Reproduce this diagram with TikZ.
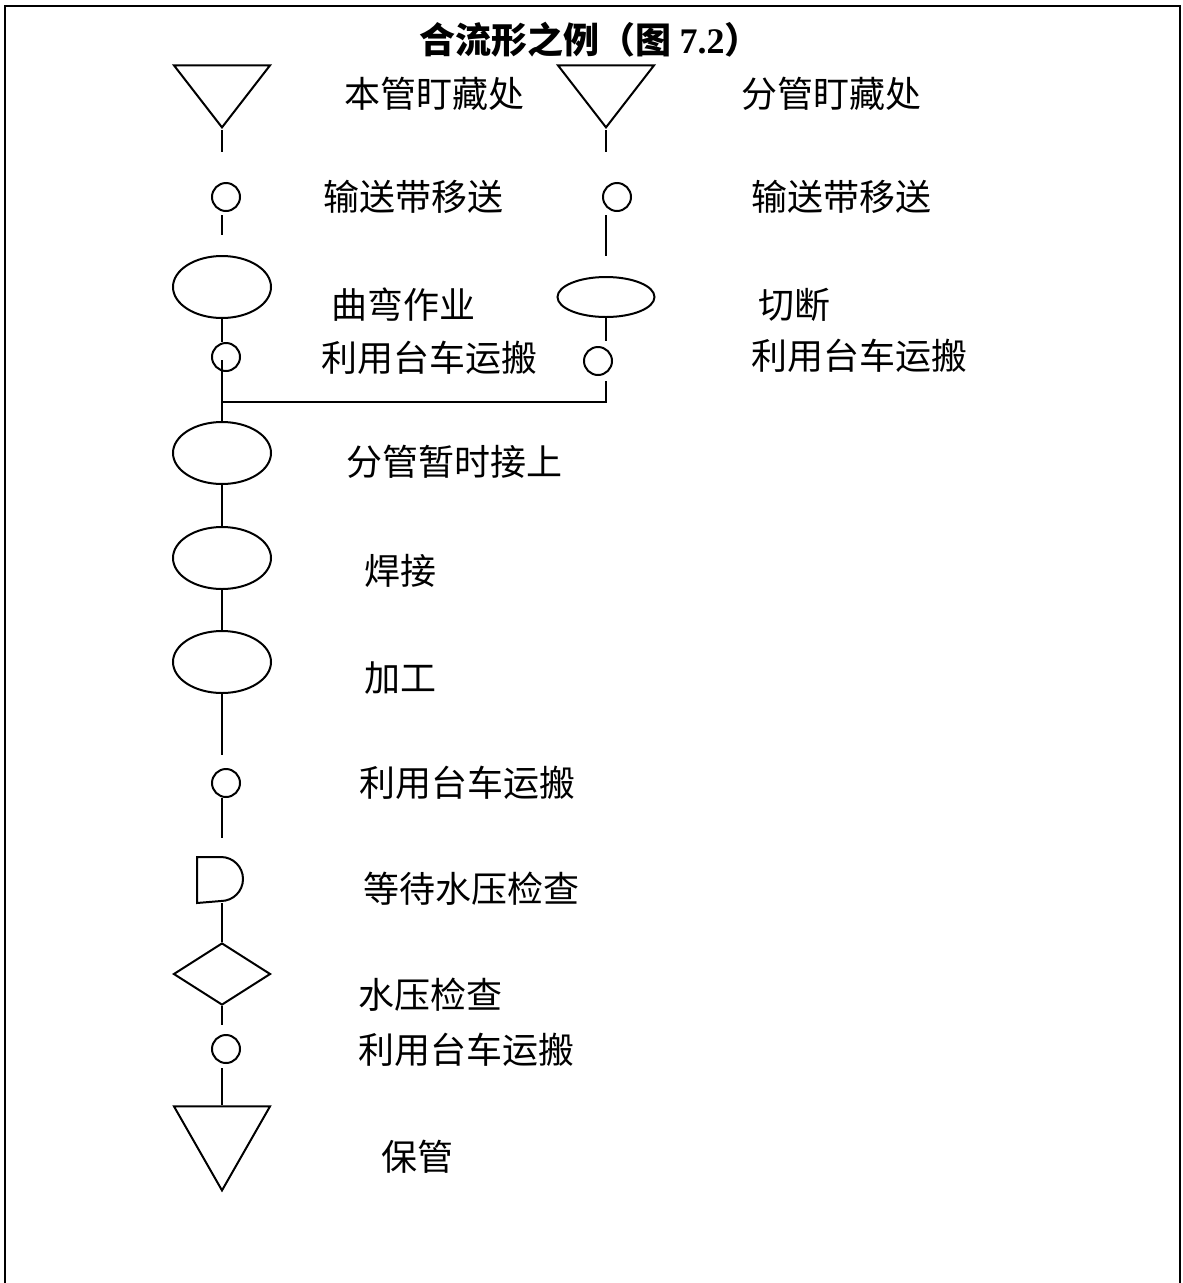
\documentclass[tikz,border=0pt]{standalone}
\usepackage{fontspec}
\setmainfont{Liberation Serif}
\newfontfamily\cjk{Noto Sans CJK SC}
\usepackage{tikz}
\usetikzlibrary{shapes.geometric, positioning}

\tikzset{
  store/.style={isosceles triangle, isosceles triangle stretches, shape border rotate=270, draw, minimum width=96, minimum height=62, inner sep=0pt},
  carry/.style={circle, draw, minimum size=28, inner sep=0pt},
  work/.style={ellipse, draw, minimum width=98, minimum height=62, inner sep=0pt},
  check/.style={diamond, draw, minimum width=97, minimum height=62, inner sep=0pt},
  lbl/.style={anchor=west, inner sep=0pt, font=\cjk\fontsize{36}{40}\selectfont}
}

\begin{document}
\begin{tikzpicture}[x=1pt, y=-1pt, line width=2pt]
\useasboundingbox (0,0) rectangle (1183,1283);
\draw (5,1283) -- (5,6) -- (1180,6) -- (1180,1283);
\node[font=\cjk\bfseries\fontsize{36}{40}\selectfont] (title) at (590,40) {合流形之例（图 {\rmfamily 7.2}）};
% main pipe
\node[store, anchor=apex] (s1) at (222,130) {};
\node[carry] (c1) at (226,197) {};
\node[work] (e1) at (222,287) {};
\node[carry] (c2) at (226,357) {};
\node[work] (e2) at (222,453) {};
\node[work] (e3) at (222,558) {};
\node[work] (e4) at (222,662) {};
\node[carry] (c3) at (226,783) {};
\node[minimum width=46, minimum height=44, inner sep=0pt] (wait) at (221,880) {};
\draw (wait.north west) -- ++(24,0) arc[start angle=-90, end angle=90, radius=22] -- (wait.south west) -- cycle;
\node[check] (chk) at (222,974) {};
\node[carry] (c4) at (226,1049) {};
\node[store, minimum height=84, anchor=apex] (s3) at (222,1193) {};
% branch pipe
\node[store, anchor=apex] (s2) at (606,130) {};
\node[carry] (c5) at (617,197) {};
\node[work, minimum width=97, minimum height=40] (e5) at (606,297) {};
\node[carry] (c6) at (598,361) {};
\coordinate (merge) at (222,402);
% connectors
\draw[shorten >=30pt] (s1.apex) -- (s1.apex |- c1.north);
\draw[shorten <=3pt, shorten >=20pt] (c1.south -| e1) -- (e1.north);
\draw (e1.south) -- (c2.north -| e1);
\draw[shorten <=3pt] (c2.center -| e2) -- (e2.north);
\draw (e2.south) -- (e3.north);
\draw (e3.south) -- (e4.north);
\draw[shorten >=13pt] (e4.south) -- (c3.north -| e4);
\draw[shorten >=19pt] (c3.south -| e4) -- (wait.north -| e4);
\draw (wait.south -| e4) -- (chk.north);
\draw[shorten >=9pt] (chk.south) -- (c4.north -| chk);
\draw[shorten <=4pt] (c4.south -| chk) -- (s3.lower side);
\draw[shorten >=30pt] (s2.apex) -- (s2.apex |- c5.north);
\draw[shorten <=3pt, shorten >=20pt] (c5.south -| e5) -- (e5.north);
\draw[shorten >=5pt] (e5.south) -- (c6.north -| e5);
\draw[shorten <=5pt] (c6.south -| e5) |- (merge);
% labels
\node[lbl] (l1) at (343,94) {本管盯藏处};
\node[lbl] (l2) at (740,94) {分管盯藏处};
\node[lbl] (l3) at (322,197) {输送带移送};
\node[lbl] (l4) at (750,197) {输送带移送};
\node[lbl] (l5) at (330,305) {曲弯作业};
\node[lbl] (l6) at (757,305) {切断};
\node[lbl] (l7) at (320,358) {利用台车运搬};
\node[lbl] (l8) at (750,356) {利用台车运搬};
\node[lbl] (l9) at (345,462) {分管暂时接上};
\node[lbl] (l10) at (363,571) {焊接};
\node[lbl] (l11) at (363,678) {加工};
\node[lbl] (l12) at (358,783) {利用台车运搬};
\node[lbl] (l13) at (362,889) {等待水压检查};
\node[lbl] (l14) at (357,995) {水压检查};
\node[lbl] (l15) at (357,1050) {利用台车运搬};
\node[lbl] (l16) at (380,1157) {保管};
\end{tikzpicture}
\end{document}
